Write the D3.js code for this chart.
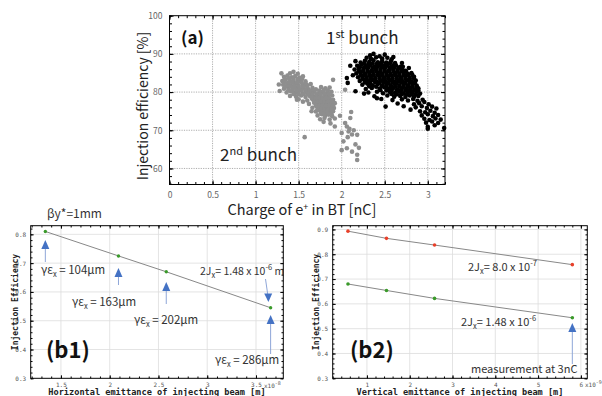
<!DOCTYPE html>
<html>
<head>
<meta charset="utf-8">
<script src="https://cdn.jsdelivr.net/npm/d3@7"></script>
<style>
  body { margin: 0; background: #fff; }
  svg { display: block; }
  .sans { font-family: "Noto Sans CJK JP", "Noto Sans", sans-serif; }
  .mono { font-family: "DejaVu Sans Mono", monospace; }
</style>
</head>
<body>
<svg id="chart" width="602" height="396"></svg>
<script>
/* DATA */
// panel (a): charge [nC] vs injection efficiency [%]
const firstBunch = [
  [2.37,90.0],[2.44,89.4],[2.50,89.8],
  [2.29,89.0],[2.34,88.7],[2.40,89.1],[2.47,88.8],[2.53,89.0],[2.58,88.6],
  [2.16,88.1],[2.22,87.7],[2.27,88.2],[2.32,87.9],[2.37,88.3],[2.42,87.8],[2.47,88.1],[2.52,87.7],[2.57,88.0],[2.62,87.6],
  [2.18,86.9],[2.23,87.2],[2.28,86.8],[2.33,87.1],[2.38,86.7],[2.43,87.0],[2.48,86.8],[2.53,87.1],[2.58,86.7],[2.63,87.0],[2.68,86.6],
  [2.15,85.9],[2.20,86.2],[2.25,85.8],[2.30,86.1],[2.35,85.7],[2.40,86.0],[2.45,85.8],[2.50,86.1],[2.55,85.7],[2.60,86.0],[2.65,85.8],[2.70,86.1],[2.74,85.6],
  [2.17,84.9],[2.22,85.2],[2.27,84.8],[2.32,85.1],[2.37,84.7],[2.42,85.0],[2.47,84.8],[2.52,85.1],[2.57,84.7],[2.62,85.0],[2.67,84.8],[2.72,85.1],[2.77,84.7],[2.81,85.0],
  [2.13,84.4],[2.19,83.9],[2.24,84.2],[2.29,83.8],[2.34,84.1],[2.39,83.7],[2.44,84.0],[2.49,83.8],[2.54,84.1],[2.59,83.7],[2.64,84.0],[2.69,83.8],[2.74,84.1],[2.79,83.7],[2.84,84.0],
  [2.21,82.9],[2.26,83.2],[2.31,82.8],[2.36,83.1],[2.41,82.7],[2.46,83.0],[2.51,82.8],[2.56,83.1],[2.61,82.7],[2.66,83.0],[2.71,82.8],[2.76,83.1],[2.81,82.7],[2.86,83.0],
  [2.24,81.9],[2.30,82.2],[2.36,81.8],[2.42,82.1],[2.47,81.7],[2.52,82.0],[2.57,81.8],[2.62,82.1],[2.67,81.7],[2.72,82.0],[2.77,81.8],[2.82,82.1],[2.87,81.7],
  [2.28,80.8],[2.35,81.1],[2.44,80.9],[2.50,81.2],[2.55,80.8],[2.60,81.1],[2.65,80.7],[2.70,81.0],[2.75,80.8],[2.80,81.1],[2.85,80.7],[2.89,81.0],
  [2.31,79.9],[2.41,80.1],[2.48,79.7],[2.56,80.0],[2.62,79.8],[2.67,80.1],[2.72,79.7],[2.77,80.0],[2.82,79.8],[2.87,80.1],[2.91,79.6],
  [2.38,78.9],[2.53,79.1],[2.61,78.8],[2.68,79.0],[2.74,78.7],[2.79,79.1],[2.84,78.8],[2.89,79.0],
  [2.46,78.2],[2.59,77.9],[2.70,78.1],[2.77,77.8],[2.83,78.2],[2.88,77.7],[2.94,78.0],
  // in-between points of the dense core
  [2.26,87.5],[2.31,87.4],[2.36,87.5],[2.41,87.4],[2.46,87.5],[2.51,87.4],[2.56,87.5],[2.61,87.3],
  [2.21,86.5],[2.26,86.4],[2.31,86.5],[2.36,86.4],[2.41,86.5],[2.46,86.4],[2.51,86.5],[2.56,86.4],[2.61,86.5],[2.66,86.3],[2.71,86.6],
  [2.20,85.5],[2.25,85.4],[2.30,85.5],[2.35,85.4],[2.40,85.5],[2.45,85.4],[2.50,85.5],[2.55,85.4],[2.60,85.5],[2.65,85.4],[2.70,85.5],[2.75,85.3],
  [2.22,84.5],[2.27,84.4],[2.32,84.5],[2.37,84.4],[2.42,84.5],[2.47,84.4],[2.52,84.5],[2.57,84.4],[2.62,84.5],[2.67,84.4],[2.72,84.5],[2.77,84.4],[2.82,84.5],
  [2.24,83.5],[2.29,83.4],[2.34,83.5],[2.39,83.4],[2.44,83.5],[2.49,83.4],[2.54,83.5],[2.59,83.4],[2.64,83.5],[2.69,83.4],[2.74,83.5],[2.79,83.4],[2.84,83.5],
  [2.27,82.5],[2.33,82.4],[2.39,82.5],[2.44,82.4],[2.49,82.5],[2.54,82.4],[2.59,82.5],[2.64,82.4],[2.69,82.5],[2.74,82.4],[2.79,82.5],[2.85,82.4],
  [2.32,81.5],[2.40,81.4],[2.47,81.5],[2.52,81.4],[2.57,81.5],[2.62,81.4],[2.67,81.5],[2.72,81.4],[2.77,81.5],[2.82,81.4],[2.87,81.5],
  [2.45,80.5],[2.52,80.4],[2.58,80.5],[2.64,80.4],[2.69,80.5],[2.74,80.4],[2.79,80.5],[2.84,80.4],[2.89,80.5],
  [2.58,79.5],[2.64,79.4],[2.70,79.5],[2.76,79.4],[2.81,79.5],[2.86,79.4],
  // stragglers and the tail towards 3 nC
  [2.06,83.7],[2.07,82.4],[2.16,80.2],[2.10,86.9],[2.26,79.6],[2.41,78.4],[2.51,76.2],[2.65,77.0],
  [2.80,75.4],[2.72,76.3],[2.33,89.6],[2.60,89.2],[2.70,87.6],[2.78,86.3],
  [2.90,77.1],[2.96,77.4],[3.01,76.8],[2.86,76.0],[2.93,76.3],[2.99,75.8],[3.05,76.2],[3.10,75.7],
  [2.91,75.0],[2.97,74.7],[3.03,75.1],[3.08,74.6],[2.93,73.9],[3.00,74.2],[3.06,73.7],[3.12,74.0],
  [2.96,73.0],[3.02,72.7],[3.09,73.1],[2.98,72.0],[3.05,72.3],[3.12,71.9],[3.00,70.9],[3.08,71.3],
  [3.00,70.4],[3.19,70.6],[3.15,72.8],[2.84,76.8]
];
const secondBunch = [
  [1.40,84.9],[1.44,85.3],[1.49,84.8],
  [1.33,84.0],[1.37,84.3],[1.42,83.9],[1.46,84.2],[1.51,83.8],[1.55,84.1],
  [1.31,82.9],[1.35,83.2],[1.40,82.8],[1.44,83.1],[1.49,82.7],[1.53,83.0],[1.58,82.8],
  [1.32,81.9],[1.37,82.2],[1.41,81.8],[1.46,82.1],[1.50,81.7],[1.55,82.0],[1.60,81.8],[1.64,82.1],
  [1.33,80.9],[1.38,81.2],[1.43,80.8],[1.47,81.1],[1.52,80.7],[1.56,81.0],[1.61,80.8],[1.66,81.1],[1.70,80.7],[1.76,81.3],[1.81,81.0],[1.86,81.2],
  [1.36,79.9],[1.41,80.2],[1.46,79.8],[1.50,80.1],[1.55,79.7],[1.59,80.0],[1.64,79.8],[1.68,80.1],[1.73,79.7],[1.78,80.0],[1.83,79.8],[1.88,80.1],
  [1.40,79.0],[1.47,78.8],[1.53,79.1],[1.58,78.7],[1.63,79.0],[1.68,78.8],[1.72,79.1],[1.76,78.7],[1.80,79.0],[1.84,78.8],[1.89,79.1],
  [1.50,78.1],[1.60,77.8],[1.66,78.1],[1.70,77.7],[1.74,78.0],[1.78,77.8],[1.82,78.1],[1.86,77.7],[1.90,78.0],
  [1.62,76.9],[1.68,77.2],[1.72,76.8],[1.76,77.1],[1.80,76.7],[1.84,77.0],[1.88,76.8],[1.92,77.1],
  [1.66,75.9],[1.71,76.2],[1.75,75.8],[1.79,76.1],[1.83,75.7],[1.87,76.0],[1.91,75.8],
  [1.70,74.9],[1.74,75.2],[1.78,74.8],[1.82,75.1],[1.86,74.7],[1.90,75.0],
  [1.72,73.9],[1.77,74.2],[1.81,73.8],[1.85,74.1],[1.89,73.7],
  [1.75,72.9],[1.80,73.2],[1.86,72.8],[1.92,73.1],
  [1.79,72.2],[1.87,71.8],
  // in-between points of the two dense blobs
  [1.34,83.5],[1.39,83.6],[1.44,83.5],[1.49,83.4],[1.54,83.5],
  [1.33,82.5],[1.38,82.4],[1.43,82.5],[1.48,82.4],[1.53,82.5],[1.58,82.3],
  [1.35,81.5],[1.40,81.4],[1.45,81.5],[1.50,81.4],[1.55,81.5],[1.60,81.4],
  [1.38,80.5],[1.43,80.4],[1.48,80.5],[1.53,80.4],[1.58,80.5],[1.63,80.4],[1.68,80.5],[1.74,80.4],[1.79,80.5],[1.84,80.4],
  [1.44,79.5],[1.50,79.4],[1.56,79.5],[1.61,79.4],[1.66,79.5],[1.71,79.4],[1.75,79.5],[1.80,79.4],[1.85,79.5],
  [1.65,78.5],[1.70,78.4],[1.74,78.5],[1.78,78.4],[1.82,78.5],[1.86,78.4],
  [1.68,77.5],[1.72,77.4],[1.76,77.5],[1.80,77.4],[1.84,77.5],[1.88,77.4],
  [1.70,76.5],[1.74,76.4],[1.78,76.5],[1.82,76.4],[1.86,76.5],[1.90,76.4],
  [1.72,75.5],[1.76,75.4],[1.80,75.5],[1.84,75.4],[1.88,75.5],
  [1.76,74.5],[1.80,74.4],[1.84,74.5],[1.88,74.4],
  // stragglers and the low-efficiency tail near 2.1 nC
  [1.90,83.2],[1.92,71.0],[1.57,68.2],[1.28,80.3],[1.30,84.9],[1.27,82.0],[1.48,78.0],[1.55,77.5],[1.65,75.0],[2.04,80.6],
  [2.11,74.8],[2.10,73.2],[2.04,71.9],[2.06,71.0],[2.08,69.7],[2.12,68.9],[2.00,69.3],[2.18,68.8],
  [2.02,67.1],[2.16,66.3],[2.06,65.3],[2.12,64.4],[2.18,63.6],[2.00,64.8],[2.18,62.2],[2.09,70.4],
  [2.14,70.0],[1.98,73.8],[2.07,68.2],[2.20,65.4]
];

// panel (b1): horizontal emittance [x1e-8 m] vs efficiency
const b1Emit = [1.34, 2.09, 2.58, 3.65];
const b1Eff = [0.81, 0.725, 0.67, 0.545];

// panel (b2): vertical emittance [x1e-9 m] vs efficiency, two 2Jx settings
const b2Emit = [0.557, 1.457, 2.58, 5.8];
const b2EffLow = [0.893, 0.864, 0.837, 0.758];   // 2Jx = 8.0e-7
const b2EffHigh = [0.68, 0.654, 0.622, 0.544];   // 2Jx = 1.48e-6

const aXTicks = [0, 0.5, 1, 1.5, 2, 2.5, 3];
const aYTicks = [60, 70, 80, 90, 100];
const b1XTicks = [1.5, 2, 2.5, 3, 3.5];
const b2XTicks = [1, 2, 3, 4, 5, 6];
const bYTicks = [0.3, 0.4, 0.5, 0.6, 0.7, 0.8, 0.9];

const svg = d3.select("#chart");
const blue = "#4472c4";

// draws a boxed frame with inward ticks on all four sides + grid
function frame(x, y, o) {
  const [x0, x1] = x.range(), [y0, y1] = y.range();
  const g = svg.append("g");

  // grid
  g.append("g").selectAll("line")
    .data(o.xTicks.filter(t => x(t) > x0 + 1 && x(t) < x1 - 1))
    .join("line")
    .attr("x1", d => x(d)).attr("x2", d => x(d))
    .attr("y1", y1).attr("y2", y0)
    .attr("stroke", o.gridColor).attr("stroke-dasharray", o.gridDash)
    .attr("stroke-width", 0.8);
  g.append("g").selectAll("line")
    .data(o.yTicks.filter(t => y(t) < y0 - 1 && y(t) > y1 + 1))
    .join("line")
    .attr("y1", d => y(d)).attr("y2", d => y(d))
    .attr("x1", x0).attr("x2", x1)
    .attr("stroke", o.gridColor).attr("stroke-dasharray", o.gridDash)
    .attr("stroke-width", 0.8);

  // minor ticks
  const minorX = d3.range(x.domain()[0], x.domain()[1] + 1e-9, o.xMinor)
    .map(v => Math.round(v / o.xMinor) * o.xMinor)
    .filter(v => v >= x.domain()[0] && v <= x.domain()[1]);
  const minorY = d3.range(y.domain()[0], y.domain()[1] + 1e-9, o.yMinor)
    .map(v => Math.round(v / o.yMinor) * o.yMinor)
    .filter(v => v >= y.domain()[0] && v <= y.domain()[1]);

  const ax = (gen, sc, vals, size, fmt, tr) => {
    const a = g.append("g").attr("transform", tr)
      .call(gen(sc).tickValues(vals).tickSize(-size).tickSizeOuter(0)
        .tickPadding(o.pad + size).tickFormat(fmt));
    a.select(".domain").remove();
    a.selectAll("line").attr("stroke", "#000");
    return a;
  };
  ax(d3.axisBottom, x, minorX, o.minor, "", `translate(0,${y0})`);
  ax(d3.axisTop, x, minorX, o.minor, "", `translate(0,${y1})`);
  ax(d3.axisLeft, y, minorY, o.minor, "", `translate(${x0},0)`);
  ax(d3.axisRight, y, minorY, o.minor, "", `translate(${x1},0)`);
  ax(d3.axisTop, x, o.xTicks, o.major, "", `translate(0,${y1})`);
  ax(d3.axisRight, y, o.yTicks, o.major, "", `translate(${x1},0)`);
  const bx = ax(d3.axisBottom, x, o.xTicks, o.major, o.xFmt, `translate(0,${y0})`);
  const by = ax(d3.axisLeft, y, o.yTicks, o.major, o.yFmt, `translate(${x0},0)`);
  [bx, by].forEach(a => a.selectAll("text")
    .attr("class", o.tickClass).attr("font-size", o.tickSize)
    .attr("fill", o.tickColor));
  bx.selectAll("text").attr("dy", "0.71em");

  g.append("rect")
    .attr("x", x0).attr("y", y1)
    .attr("width", x1 - x0).attr("height", y0 - y1)
    .attr("fill", "none").attr("stroke", "#000").attr("stroke-width", 1);
  return g;
}

/* ---------- PANEL (a) ---------- */
const ax = d3.scaleLinear().domain([0, 3.2]).range([169.5, 445]);
const ay = d3.scaleLinear().domain([55.8, 100]).range([184.5, 15.7]);

frame(ax, ay, {
  xTicks: aXTicks, yTicks: aYTicks, xMinor: 0.1, yMinor: 2,
  major: 4, minor: 2.5, pad: 3, gridColor: "#999", gridDash: "1.2,1.2",
  xFmt: d => d, yFmt: d => d, tickClass: "sans", tickSize: 8.5, tickColor: "#666"
});

svg.append("g").selectAll("circle")
  .data(secondBunch).join("circle")
  .attr("cx", d => ax(d[0])).attr("cy", d => ay(d[1]))
  .attr("r", 2.3).attr("fill", "#8e8e8e");

svg.append("g").selectAll("circle")
  .data(firstBunch).join("circle")
  .attr("cx", d => ax(d[0])).attr("cy", d => ay(d[1]))
  .attr("r", 2.3).attr("fill", "#000");

svg.append("text").attr("class", "sans")
  .attr("x", 181).attr("y", 44).attr("font-size", 17).attr("font-weight", "bold")
  .attr("fill", "#111").text("(a)");

const t1 = svg.append("text").attr("class", "sans")
  .attr("x", 326).attr("y", 44).attr("font-size", 17).attr("fill", "#222");
t1.append("tspan").text("1");
t1.append("tspan").attr("font-size", 11).attr("dy", -6).text("st");
t1.append("tspan").attr("dy", 6).text(" bunch");

const t2 = svg.append("text").attr("class", "sans")
  .attr("x", 220).attr("y", 161).attr("font-size", 17).attr("fill", "#222");
t2.append("tspan").text("2");
t2.append("tspan").attr("font-size", 11).attr("dy", -6).text("nd");
t2.append("tspan").attr("dy", 6).text(" bunch");

const xt = svg.append("text").attr("class", "sans")
  .attr("x", 302).attr("y", 215).attr("text-anchor", "middle")
  .attr("font-size", 14.5).attr("fill", "#222");
xt.append("tspan").text("Charge of e");
xt.append("tspan").attr("font-size", 9).attr("dy", -5).text("+");
xt.append("tspan").attr("dy", 5).text(" in BT [nC]");

svg.append("text").attr("class", "sans")
  .attr("transform", "translate(148,106) rotate(-90)")
  .attr("text-anchor", "middle").attr("font-size", 14).attr("fill", "#222")
  .text("Injection efficiency [%]");

/* ---------- PANEL (b1) ---------- */
const b1x = d3.scaleLinear().domain([1.19, 3.78]).range([30.7, 283.3]);
const b1y = d3.scaleLinear().domain([0.3, 0.83]).range([378.3, 225.7]);

const bOpts = {
  yTicks: bYTicks, yMinor: 0.02, major: 3, minor: 1.8, pad: 1.5,
  gridColor: "#ddd", gridDash: null, yFmt: d3.format(".1f"),
  tickClass: "mono", tickSize: 6, tickColor: "#555"
};
frame(b1x, b1y, Object.assign({}, bOpts, {
  xTicks: b1XTicks, xMinor: 0.1, xFmt: d => d,
  yTicks: bYTicks.filter(t => t <= 0.83)
}));

const line1 = d3.line().x(d => b1x(d[0])).y(d => b1y(d[1]));
const b1Data = b1Emit.map((e, i) => [e, b1Eff[i]]);
svg.append("path").datum(b1Data).attr("d", line1)
  .attr("fill", "none").attr("stroke", "#888").attr("stroke-width", 1);
svg.append("g").selectAll("circle").data(b1Data).join("circle")
  .attr("cx", d => b1x(d[0])).attr("cy", d => b1y(d[1]))
  .attr("r", 1.7).attr("fill", "#3a9a2a");

/* ---------- PANEL (b2) ---------- */
const b2x = d3.scaleLinear().domain([0.2, 6.15]).range([332.7, 587.3]);
const b2y = d3.scaleLinear().domain([0.3, 0.915]).range([378.3, 225.7]);

frame(b2x, b2y, Object.assign({}, bOpts, {
  xTicks: b2XTicks, xMinor: 0.2, xFmt: d => d
}));

const line2 = d3.line().x(d => b2x(d[0])).y(d => b2y(d[1]));
[[b2EffLow, "#e8402a"], [b2EffHigh, "#3a9a2a"]].forEach(([vals, col]) => {
  const pts = b2Emit.map((e, i) => [e, vals[i]]);
  svg.append("path").datum(pts).attr("d", line2)
    .attr("fill", "none").attr("stroke", "#888").attr("stroke-width", 1);
  svg.append("g").selectAll("circle").data(pts).join("circle")
    .attr("cx", d => b2x(d[0])).attr("cy", d => b2y(d[1]))
    .attr("r", 1.8).attr("fill", col);
});

/* ---------- b axis titles ---------- */
[[157, "Horizontal emittance of injecting beam [m]", 15],
 [460, "Vertical emittance of injecting beam [m]", 316]].forEach(([cx, label, yx]) => {
  svg.append("text").attr("class", "mono")
    .attr("x", cx).attr("y", 395).attr("text-anchor", "middle")
    .attr("font-size", 8.6).attr("font-weight", "bold").attr("fill", "#222")
    .text(label);
  svg.append("text").attr("class", "mono")
    .attr("transform", `translate(${yx},302) rotate(-90)`)
    .attr("text-anchor", "middle").attr("dy", "0.35em")
    .attr("font-size", 8).attr("font-weight", "bold").attr("fill", "#222")
    .text("Injection Efficiency");
});

function powLabel(x, y, exp) {
  const t = svg.append("text").attr("class", "mono")
    .attr("x", x).attr("y", y).attr("font-size", 6).attr("fill", "#555");
  t.append("tspan").text("x10");
  t.append("tspan").attr("dy", -3).attr("font-size", 5).text(exp);
}
powLabel(264, 388, "-8");
powLabel(585, 387, "-9");

/* ---------- annotations ---------- */
function arrow(x, yFrom, yTo) {
  const dir = yTo < yFrom ? 1 : -1;
  svg.append("line")
    .attr("x1", x).attr("x2", x).attr("y1", yFrom).attr("y2", yTo + dir * 7)
    .attr("stroke", "#8ea6d8").attr("stroke-width", 1);
  svg.append("path")
    .attr("d", `M${x},${yTo} L${x - 4},${yTo + dir * 9} L${x + 4},${yTo + dir * 9} Z`)
    .attr("fill", blue);
}

function label(x, y, parts, size) {
  const t = svg.append("text").attr("class", "sans")
    .attr("x", x).attr("y", y).attr("font-size", size || 12).attr("fill", "#333");
  parts.forEach(p => {
    const s = t.append("tspan").text(p.t);
    if (p.sub) s.attr("font-size", 7.5).attr("dy", 3);
    if (p.sup) s.attr("font-size", 7.5).attr("dy", -5);
    if (p.back) s.attr("dy", p.back);
  });
  return t;
}

label(47, 218, [{ t: "βy*=1mm" }], 12);

const gex = n => [{ t: "γε" }, { t: "x", sub: true }, { t: " = " + n + "μm", back: -3 }];
label(41, 274, gex(104), 11.5);
label(72, 306, gex(163), 11.5);
label(134, 324, gex(202), 11.5);
label(215, 364, gex(286), 11.5);
label(200, 275, [{ t: "2J" }, { t: "x", sub: true }, { t: "= 1.48 x 10", back: -3 },
  { t: "-6", sup: true }, { t: " m", back: 5 }], 10.5);

arrow(b1x(b1Emit[0]), 262, 240);
arrow(b1x(b1Emit[1]), 285, 268);
arrow(b1x(b1Emit[2]), 304, 282);
arrow(b1x(b1Emit[3]), 354, 315);
svg.append("line").attr("x1", 265.5).attr("y1", 279).attr("x2", 267.8).attr("y2", 295)
  .attr("stroke", "#8ea6d8").attr("stroke-width", 1);
svg.append("path").attr("d", "M268.4,302 L264.2,293.5 L272.2,293.5 Z").attr("fill", blue);

svg.append("text").attr("class", "sans")
  .attr("x", 46).attr("y", 358).attr("font-size", 22).attr("font-weight", "bold")
  .attr("fill", "#111").text("(b1)");
svg.append("text").attr("class", "sans")
  .attr("x", 350).attr("y", 358).attr("font-size", 22).attr("font-weight", "bold")
  .attr("fill", "#111").text("(b2)");

label(468, 271, [{ t: "2J" }, { t: "x", sub: true }, { t: "= 8.0 x 10", back: -3 },
  { t: "-7", sup: true }], 11);
label(461, 326, [{ t: "2J" }, { t: "x", sub: true }, { t: "= 1.48 x 10", back: -3 },
  { t: "-6", sup: true }], 11);
label(471, 373, [{ t: "measurement at 3nC" }], 11);
arrow(b2x(b2Emit[3]), 364, 323);
</script>
</body>
</html>
